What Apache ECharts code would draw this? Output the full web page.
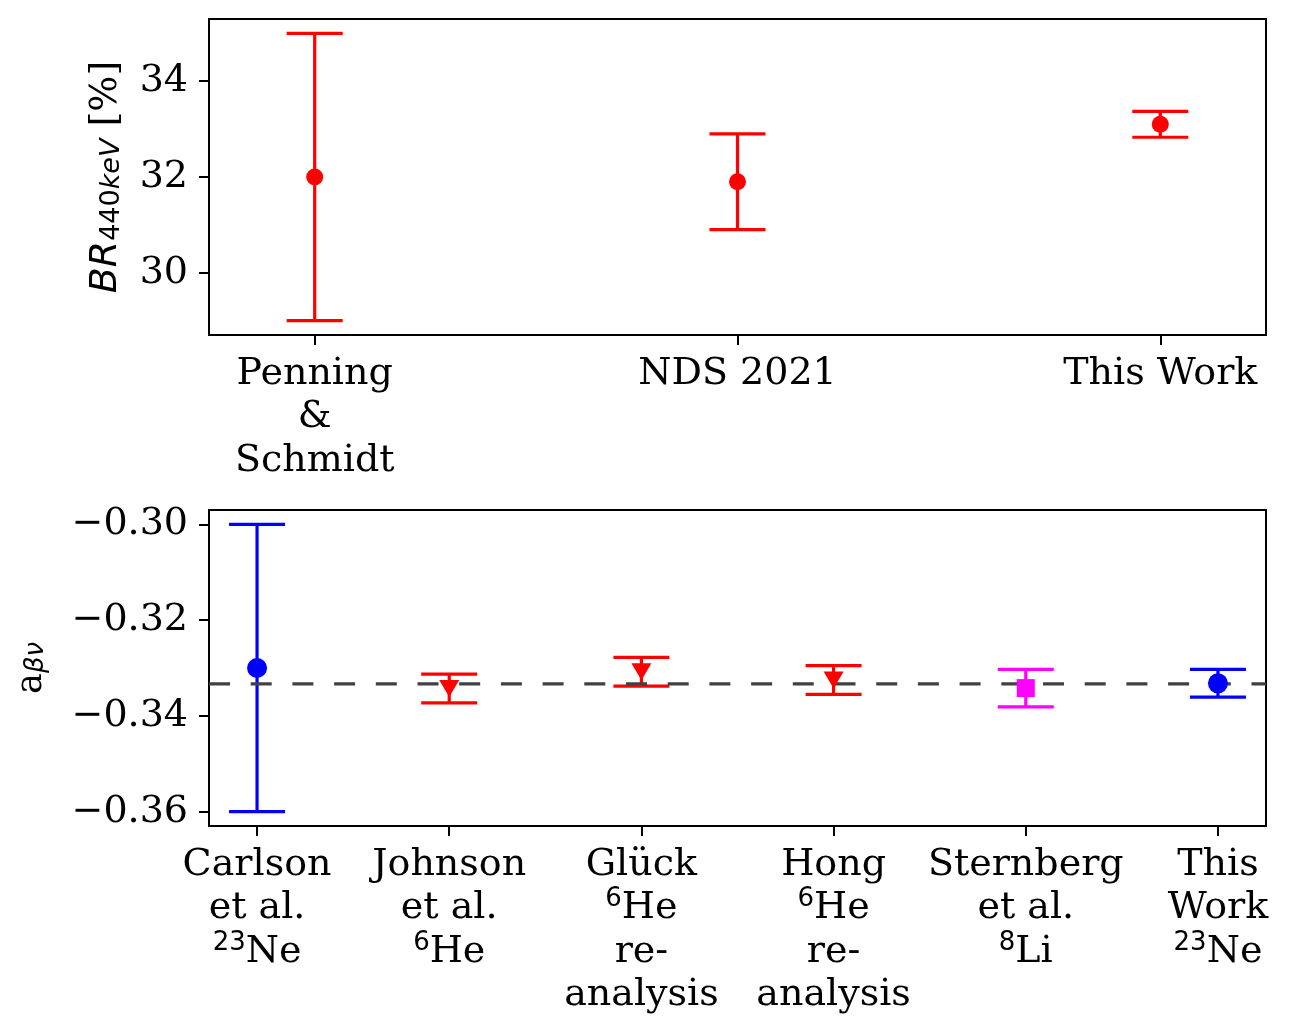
<!DOCTYPE html>
<html>
<head>
<meta charset="utf-8">
<script src="https://cdn.jsdelivr.net/npm/echarts@6/dist/echarts.min.js"></script>
<style>
  html, body { margin: 0; padding: 0; background: #fff; }
  #main { width: 1289px; height: 1036px; }
</style>
</head>
<body>
<div id="main"></div>
<script>
// branching ratio of the 440 keV line (top panel)
const brLabels = ['Penning\n&\nSchmidt', 'NDS 2021', 'This Work'];
const brValues = [32.0, 31.9, 33.1];
const brErrors = [3.0, 1.0, 0.27];
const brTicks = [30, 32, 34];

// beta-neutrino correlation (bottom panel)
const aLabels = [
  'Carlson\net al.\n{sup|23}Ne',
  'Johnson\net al.\n{sup|6}He',
  'Glück\n{sup|6}He\nre-\nanalysis',
  'Hong\n{sup|6}He\nre-\nanalysis',
  'Sternberg\net al.\n{sup|8}Li',
  'This\nWork\n{sup|23}Ne'
];
const aValues = [-0.33, -0.3343, -0.3308, -0.3325, -0.3342, -0.3332];
const aErrors = [0.03, 0.003, 0.003, 0.003, 0.0039, 0.0029];
const aNuclide = ['23Ne', '6He', '6He', '6He', '8Li', '23Ne'];
const aTicks = [-0.36, -0.34, -0.32, -0.30];
const aReference = -1 / 3;

// x extents of the two panels
const xMin = -0.25;
const brXMax = 2.25;
const aXMax = 5.25;

// marker look per nuclide
const nuclideStyle = {
  '23Ne': { color: '#0000ff', symbol: 'circle', size: 20, rotate: 0 },
  '6He': { color: '#ff0000', symbol: 'triangle', size: [20, 17], rotate: 180 },
  '8Li': { color: '#ff00ff', symbol: 'rect', size: 18, rotate: 0 }
};

const serif = 'DejaVu Serif';
const sans = 'DejaVu Sans';
const fontSize = 38;

function errorBars(colors) {
  return function (params, api) {
    const x = api.value(0), y = api.value(1), e = api.value(2);
    const hi = api.coord([x, y + e]);
    const lo = api.coord([x, y - e]);
    const style = { stroke: colors[params.dataIndex], lineWidth: 3.2 };
    const cap = 28;
    return {
      type: 'group',
      children: [
        { type: 'line', shape: { x1: hi[0], y1: hi[1], x2: lo[0], y2: lo[1] }, style: style },
        { type: 'line', shape: { x1: hi[0] - cap, y1: hi[1], x2: hi[0] + cap, y2: hi[1] }, style: style },
        { type: 'line', shape: { x1: lo[0] - cap, y1: lo[1], x2: lo[0] + cap, y2: lo[1] }, style: style }
      ]
    };
  };
}

const richLabel = {
  sup: { fontFamily: sans, fontSize: 26, lineHeight: 23, verticalAlign: 'top', color: '#000' }
};

function xAxisFor(gridIndex, labels, max) {
  const idx = labels.map((_, i) => i);
  return {
    type: 'value', gridIndex: gridIndex, min: xMin, max: max,
    splitLine: { show: false },
    axisLine: { show: true, onZero: false, lineStyle: { color: '#000', width: 2 } },
    axisTick: { show: true, customValues: idx, length: 10, lineStyle: { color: '#000', width: 2 } },
    axisLabel: {
      customValues: idx,
      formatter: v => labels[Math.round(v)],
      fontFamily: serif, fontSize: fontSize, lineHeight: 43.5, color: '#000',
      margin: 17, rich: richLabel
    }
  };
}

function yAxisFor(gridIndex, ticks, min, max, fmt, name, nameGap) {
  return {
    type: 'value', gridIndex: gridIndex, min: min, max: max,
    splitLine: { show: false },
    axisLine: { show: true, onZero: false, lineStyle: { color: '#000', width: 2 } },
    axisTick: { show: true, customValues: ticks, length: 10, lineStyle: { color: '#000', width: 2 } },
    axisLabel: {
      customValues: ticks, formatter: fmt,
      fontFamily: serif, fontSize: fontSize, color: '#000', margin: 21
    },
    name: name, nameLocation: 'middle', nameRotate: 90, nameGap: nameGap,
    nameTextStyle: {
      color: '#000', fontFamily: serif, fontSize: fontSize,
      rich: {
        it: { fontFamily: sans, fontStyle: 'italic', fontSize: 38, lineHeight: 38, color: '#000' },
        sub: { fontFamily: sans, fontSize: 27, lineHeight: 19, verticalAlign: 'bottom', color: '#000' },
        subi: { fontFamily: sans, fontStyle: 'italic', fontSize: 27, lineHeight: 19, verticalAlign: 'bottom', color: '#000' },
        n: { fontFamily: serif, fontSize: 38, lineHeight: 38, color: '#000' },
        a: { fontFamily: serif, fontSize: 35, lineHeight: 35, color: '#000' },
        asub: { fontFamily: sans, fontStyle: 'italic', fontSize: 26, lineHeight: 18, verticalAlign: 'bottom', color: '#000' }
      }
    }
  };
}

const brColors = brValues.map(() => '#ff0000');
const aColors = aNuclide.map(n => nuclideStyle[n].color);

const chart = echarts.init(document.getElementById('main'));
chart.setOption({
  animation: false,
  backgroundColor: '#fff',
  grid: [
    { left: 209, right: 23, top: 19, height: 316, show: true, borderColor: '#000', borderWidth: 2 },
    { left: 209, right: 23, top: 510, height: 316, show: true, borderColor: '#000', borderWidth: 2 }
  ],
  xAxis: [
    xAxisFor(0, brLabels, brXMax),
    xAxisFor(1, aLabels, aXMax)
  ],
  yAxis: [
    yAxisFor(0, brTicks, 28.7, 35.3, v => String(v),
      '{it|BR}{sub|440}{subi|keV}{n| [%]}', 84),
    yAxisFor(1, aTicks, -0.363, -0.297, v => '\u2212' + Math.abs(v).toFixed(2),
      '{a|a}{asub|βν}', 160)
  ],
  series: [
    {
      type: 'custom', xAxisIndex: 0, yAxisIndex: 0, z: 2,
      renderItem: errorBars(brColors),
      encode: { x: 0, y: 1 },
      data: brValues.map((v, i) => [i, v, brErrors[i]])
    },
    {
      type: 'scatter', xAxisIndex: 0, yAxisIndex: 0, z: 4,
      symbol: 'circle', symbolSize: 17,
      itemStyle: { color: '#ff0000', opacity: 1 },
      data: brValues.map((v, i) => [i, v])
    },
    {
      type: 'custom', xAxisIndex: 1, yAxisIndex: 1, z: 2,
      renderItem: errorBars(aColors),
      encode: { x: 0, y: 1 },
      data: aValues.map((v, i) => [i, v, aErrors[i]])
    },
    {
      // reference value a = -1/3 across the whole panel
      type: 'line', xAxisIndex: 1, yAxisIndex: 1, z: 3,
      showSymbol: false, silent: true,
      lineStyle: { color: '#404040', width: 3.3, type: [21, 20.7] },
      data: [[xMin, aReference], [aXMax, aReference]]
    },
    {
      type: 'scatter', xAxisIndex: 1, yAxisIndex: 1, z: 4,
      data: aValues.map((v, i) => {
        const s = nuclideStyle[aNuclide[i]];
        return {
          value: [i, v], symbol: s.symbol, symbolSize: s.size, symbolRotate: s.rotate,
          itemStyle: { color: s.color, opacity: 1 }
        };
      })
    }
  ]
});
</script>
</body>
</html>
